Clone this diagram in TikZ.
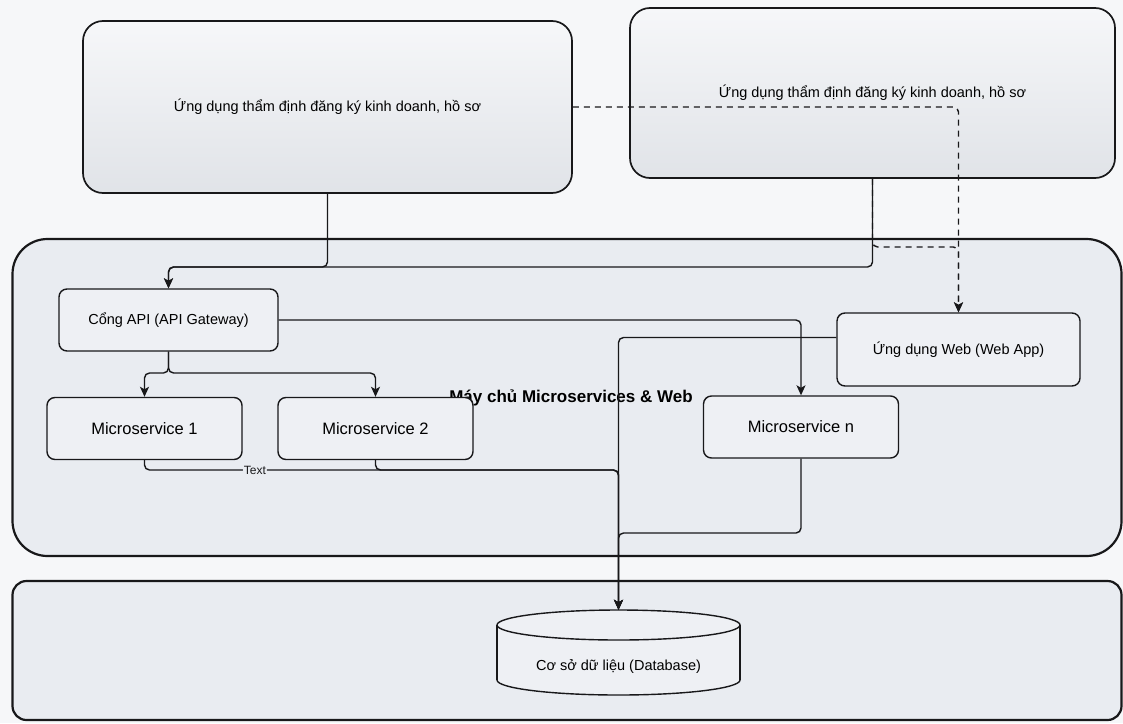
\documentclass[tikz,border=0pt]{standalone}
\usepackage{fontspec}
\setmainfont{Liberation Sans}
\usetikzlibrary{arrows.meta,positioning,calc}
\definecolor{bgpage}{RGB}{246,247,249}
\definecolor{zonefill}{RGB}{233,236,241}
\definecolor{boxfill}{RGB}{238,240,244}
\definecolor{ink}{RGB}{24,24,26}
\tikzset{
  zone/.style={draw=ink, line width=2.2pt, fill=zonefill, inner sep=0pt},
  appbox/.style={draw=ink, line width=1.7pt, rounded corners=20pt, top color=bgpage,
                 bottom color=zonefill!92!gray, minimum width=489pt, minimum height=172pt,
                 inner sep=0pt, font=\fontsize{14.5pt}{17pt}\selectfont},
  svc/.style={draw=ink, line width=1.4pt, fill=boxfill, rounded corners=8pt,
              inner sep=0pt, font=\fontsize{14.5pt}{17pt}\selectfont},
  ms/.style={minimum width=195pt, minimum height=62pt, font=\fontsize{16.5pt}{19pt}\selectfont},
  dbtext/.style={minimum width=243pt, minimum height=114pt, inner sep=0pt,
                 font=\fontsize{14.5pt}{17pt}\selectfont},
  arr/.style={-{Stealth[length=10pt,width=9pt,inset=2.5pt]}, ink, line width=1.4pt, rounded corners=5pt},
  darr/.style={arr, dash pattern=on 6pt off 5pt},
  lbl/.style={fill=zonefill, inner sep=1pt, font=\fontsize{12pt}{14pt}\selectfont},
}

\begin{document}
\begin{tikzpicture}[x=1pt, y=-1pt]
  \fill[bgpage] (0,0) rectangle (1123,723);
  \useasboundingbox (0,0) rectangle (1123,723);

  % zones
  \node[zone, rounded corners=35pt, minimum width=1109pt, minimum height=317pt,
        font=\bfseries\fontsize{17pt}{20pt}\selectfont] (srv) at (567,397.5) {\hspace*{8pt}Máy chủ Microservices \& Web};
  \node[zone, rounded corners=14pt, minimum width=1109pt, minimum height=139pt] (store) at (567,650.5) {};

  % client apps
  \node[appbox] (appL) at (327.5,107) {Ứng dụng thẩm định đăng ký kinh doanh, hồ sơ};
  \node[appbox, minimum width=485pt, minimum height=170pt] (appR) at (872.5,93) {Ứng dụng thẩm định đăng ký kinh doanh, hồ sơ};

  % services
  \node[svc, minimum width=219pt, minimum height=62pt] (api) at (168.5,320) {Cổng API (API Gateway)};
  \node[svc, ms] (ms1) at (144.5,428.5) {Microservice 1};
  \node[svc, ms] (ms2) at (375.5,428.5) {Microservice 2};
  \node[svc, ms] (msn) at (801,427) {Microservice n};
  \node[svc, minimum width=243pt, minimum height=73pt] (web) at (958.5,349.5) {Ứng dụng Web (Web App)};

  % database
  \filldraw[fill=boxfill, draw=ink, line width=1.4pt] (618.5,680) ellipse [x radius=121.5pt, y radius=15pt];
  \fill[boxfill] (497,625) rectangle (740,680);
  \draw[ink, line width=1.4pt] (497,625) -- (497,680) (740,625) -- (740,680);
  \filldraw[fill=boxfill, draw=ink, line width=1.4pt] (618.5,625) ellipse [x radius=121.5pt, y radius=15pt];
  \node[dbtext] (db) at (618.5,667) {Cơ sở dữ liệu (Database)};

  \coordinate (webbus) at (0,247);
  \coordinate (topbus) at (0,267);
  \coordinate (split) at (0,373);
  \coordinate (lowbus) at (0,470);
  \coordinate (midbus) at (0,533);

  \draw[arr] (appL.south) -- (appL.south |- topbus) -| (api.north);
  \draw[arr] (appR.south) -- (appR.south |- topbus) -| (api.north);
  \draw[darr] (appL.east) -| (web.north);
  \draw[darr] (appR.south) -- (appR.south |- webbus) -| (web.north);
  \draw[arr] (api.south) -- (api.south |- split) -| (ms1.north);
  \draw[arr] (api.south) -- (api.south |- split) -| (ms2.north);
  \draw[arr] (api.east) -| (msn.north);
  \draw[arr] ([yshift=12pt]web.west) -| (db.north);
  \draw[arr] (ms1.south) -- (ms1.south |- lowbus) -- node[lbl, pos=0.233] (txt) {Text} (lowbus -| db.north) -- (db.north);
  \draw[arr] (ms2.south) -- (ms2.south |- lowbus) -| (db.north);
  \draw[arr] (msn.south) -- (msn.south |- midbus) -| (db.north);
\end{tikzpicture}
\end{document}
